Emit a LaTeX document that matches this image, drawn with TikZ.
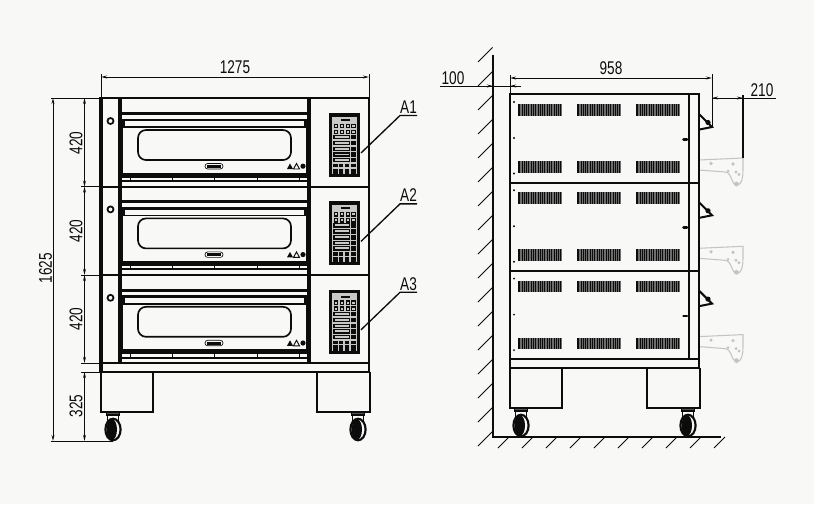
\documentclass[tikz,border=0pt]{standalone}
\usepackage{fontspec}
\setmainfont[FakeStretch=0.74]{Liberation Sans}
\usetikzlibrary{arrows.meta}
\definecolor{paper}{HTML}{F8F8F6}
\definecolor{ink}{HTML}{0C0C0C}
\definecolor{ghost}{HTML}{C4C4C1}
\tikzset{
  heavy/.style={draw=ink,line width=2.4pt},
  medium/.style={draw=ink,line width=1.5pt},
  thin line/.style={draw=ink,line width=1pt},
  dimline/.style={draw=ink,line width=.7pt,{Stealth[length=4.5pt,width=2.2pt]}-{Stealth[length=4.5pt,width=2.2pt]}},
  extline/.style={draw=ink,line width=.75pt},
  dimtext/.style={text=ink,font=\fontsize{13.8pt}{14pt}\selectfont,inner sep=0pt},
  hatch/.style={draw=ink,line width=.65pt},
  ghostline/.style={draw=ghost,line width=.8pt},
  ghostdot/.style={fill=ghost},
}
\newcommand{\caster}[1]{%
  \begin{scope}[shift={(#1,0)}]
    \fill[ink!70] (-6.5,412) rectangle (6.5,415);
    \draw[medium,line width=1.1pt] (-6.5,412) rectangle (6.5,415);
    \draw[medium,line width=1.2pt] (-5.5,415) -- (-5.5,422) (5.5,415) -- (5.5,422);
    \draw[medium,line width=1.6pt] (0,429.5) ellipse (7.6 and 10.8);
    \fill[ink] (-1.2,429.5) ellipse (5.2 and 10.4);
  \end{scope}}
\newcommand{\panel}{%
  \fill[ink] (329,15) rectangle (360,79);
  \fill[paper!80!ink] (332,18.5) rectangle (357,76);
  \fill[ink] (341,21) rectangle (350,23);
  \foreach \px in {336,342,348,353.5}{\foreach \py in {28,34}{
    \draw[thin line] (\px-1.7,\py-1.7) rectangle (\px+1.7,\py+1.7);}}
  \foreach \py in {39,45,51,56.5,62}{
    \draw[thin line] (334,\py-1.6) rectangle (349.5,\py+1.6);
    \fill[ink] (351.4,\py-2.2) rectangle (355.8,\py+2.2);}
  \fill[ink] (333,66) rectangle (356,76);
  \foreach \px in {338.5,344,350}{\draw[paper!80!ink,line width=.8pt] (\px,66) -- (\px,76);}
  \draw[paper!80!ink,line width=.8pt] (333,70) -- (356,70);
}
\newcommand{\frontbay}[1]{%
  \begin{scope}[shift={(0,#1)}]
    \draw[medium,line width=2.2pt] (120,15.5) -- (309,15.5);
    \draw[medium,line width=2.2pt] (120,22) -- (309,22);
    \draw[thin line,line width=1.2pt] (122,29) -- (307,29);
    \fill[ink] (121,23) rectangle (124.5,29);
    \fill[ink] (303.5,23) rectangle (307,29);
    \draw[thin line] (122.5,29) -- (122.5,77) (306.5,29) -- (306.5,77);
    \draw[medium,line width=1.25pt,rounded corners=6pt] (138,32) rectangle (291,62);
    \draw[thin line,rounded corners=2pt,line width=.5pt] (205,65.5) rectangle (223,71);
    \fill[ink] (207,67) rectangle (221,69.8);
    \fill[ink] (287,71) -- (290,65.5) -- (293,71) -- cycle;
    \draw[thin line,line width=.7pt] (293.5,71) -- (296.5,65.5) -- (299.5,71) -- cycle;
    \fill[ink] (303,68.2) circle (2.6);
    \fill[ink] (120,74.5) rectangle (309,79.5);
    \foreach \tx in {130,172,214,257,299}{\fill[ink] (\tx-.5,79) rectangle (\tx+.5,82);}
    \draw[thin line,line width=1.5pt] (120,83) -- (309,83);
    \draw[medium,line width=1.3pt] (110.5,23) circle (3);
    \panel
  \end{scope}}
\newcommand{\sidebay}[1]{%
  \begin{scope}[shift={(0,#1)}]
    \foreach \vx in {518,577,636}{\foreach \vy in {10,67}{
      \fill[ink] (\vx,\vy) rectangle (\vx+44,\vy+11.7);
      \foreach \n in {1,...,24}{\draw[ink!60,line width=.18pt] (\vx+\n*1.78,\vy) -- (\vx+\n*1.78,\vy+11.7);}}}
    \fill[ink] (514,8) circle (1.1);
    \fill[ink] (514,44) circle (1.1);
    \fill[ink] (514,79.5) circle (1.1);
    \draw[ink,line width=2pt,line cap=round] (683.5,45.5) -- (687,45.5);
    \draw[medium] (699.5,20.5) -- (712,33) -- (699.5,35.5);
    \fill[ink] (708,28.5) circle (2.6);
    \draw[ghostline] (699,66) -- (743,64) -- (743,76) .. controls (743,83) and (742,91) .. (737,91) .. controls (731,91) and (732,78) .. (725,78) -- (699,76);
    \fill[ghostdot] (711,69.5) circle (1.8);
    \fill[ghostdot] (733,70) circle (1.8);
    \fill[ghostdot] (728,77) circle (1.5);
    \fill[ghostdot] (736,78) circle (1.6);
    \fill[ghostdot] (739,80.5) circle (1.6);
    \fill[ghostdot] (736.5,90) circle (2.4);
  \end{scope}}
\begin{document}
\begin{tikzpicture}[x=.75pt,y=-.75pt]
\useasboundingbox (0,0) rectangle (814,504);
\fill[paper] (0,0) rectangle (814,504);

% ---------- front view ----------
\coordinate (fTL) at (101,98);
\coordinate (fTR) at (369,98);
\coordinate (f1) at (101,186.7);
\coordinate (f2) at (101,275);
\coordinate (f3) at (101,363);
\coordinate (f4) at (101,372);
\coordinate (fB) at (113,441);
\frontbay{98}
\frontbay{186.4}
\frontbay{274.8}
\draw[heavy] (101,97) -- (101,372);
\draw[heavy] (120,98) -- (120,363);
\draw[heavy] (309,98) -- (309,363);
\draw[medium,line width=1.7pt] (369,98) -- (369,372);
\draw[medium,line width=1.7pt] (101,98) -- (369,98);
\draw[medium,line width=1.7pt] (101,186.7) -- (369,186.7);
\draw[medium,line width=1.7pt] (101,275) -- (369,275);
\draw[medium,line width=1.7pt] (101,363) -- (369,363);
\draw[medium] (101,372) -- (370,372);
\draw[medium] (101,372) -- (101,412) -- (153,412) -- (153,372);
\draw[medium] (317,372) -- (317,412) -- (370,412) -- (370,372);
\caster{113}
\caster{358}

% front dimensions
\draw[extline] (fTL) -- (101,74);
\draw[extline] (fTR) -- (369,74);
\draw[dimline] (101,77) -- node[dimtext,above=2pt] (d1275) {1275} (369,77);
\draw[extline] (fTL) -- (51,98);
\draw[extline] (f1) -- (81,186.7);
\draw[extline] (f2) -- (81,275);
\draw[extline] (f3) -- (81,363);
\draw[extline] (f4) -- (81,372);
\draw[extline] (fB) -- (51,441);
\draw[dimline] (53,98) -- (53,441);
\draw[dimline] (84.5,98) -- (84.5,186.7);
\draw[dimline] (84.5,186.7) -- (84.5,275);
\draw[dimline] (84.5,275) -- (84.5,363);
\draw[dimline] (84.5,372) -- (84.5,441);
\node[dimtext,rotate=90] (d1625) at (45.5,268) {1625};
\node[dimtext,rotate=90] (d420a) at (76,143) {420};
\node[dimtext,rotate=90] (d420b) at (76,231) {420};
\node[dimtext,rotate=90] (d420c) at (76,319) {420};
\node[dimtext,rotate=90] (d325) at (76,406) {325};

% leaders
\foreach \lab/\ly in {A1/0,A2/88.4,A3/176.8}{
  \begin{scope}[shift={(0,\ly)}]
    \node[dimtext] (n\lab) at (408.5,107) {\lab};
    \coordinate (p\lab) at (361,153);
    \coordinate (q\lab) at (400,115.5);
    \coordinate (r\lab) at (417,115.5);
    \draw[medium,line width=1pt] (p\lab) -- (q\lab) -- (r\lab);
  \end{scope}}

% ---------- side view ----------
\coordinate (wallT) at (493,55);
\coordinate (wallB) at (493,437);
\coordinate (floorR) at (721,437);
\draw[medium] (wallT) -- (wallB) -- (floorR);
\foreach \hy in {0,...,16}{\draw[hatch] (478,62+\hy*24) -- (492.5,47.5+\hy*24);}
\begin{scope}
  \clip (470,50) rectangle (730,460);
  \foreach \hx in {0,...,9}{\draw[hatch] (498+\hx*24,448) -- (509+\hx*24,437);}
\end{scope}
\sidebay{94}
\sidebay{182.3}
\sidebay{270.6}
\draw[medium] (510,94) rectangle (699,359);
\draw[medium] (510,183) -- (699,183);
\draw[medium] (510,271) -- (699,271);
\draw[medium] (689,94) -- (689,359);
\draw[medium,line width=1.8pt] (699,94) -- (699,368);
\draw[medium] (510,94) -- (510,368) -- (699,368);
\draw[medium] (510,368) -- (510,408) -- (562,408) -- (562,368);
\draw[medium] (647,368) -- (647,408) -- (700,408) -- (700,368);
\begin{scope}[shift={(0,-4)}]
  \caster{521}
  \caster{688}
\end{scope}

% side dimensions
\coordinate (sTL) at (510,94);
\coordinate (sEnd) at (712,127);
\draw[extline] (sTL) -- (510,75);
\draw[extline] (sEnd) -- (712,74);
\draw[dimline] (510,78) -- node[dimtext,above=2pt] (d958) {958} (712,78);
\draw[extline] (440,86) -- (521,86);
\draw[extline,{Stealth[length=4.5pt,width=2.2pt]}-] (493,86) -- (484,86);
\draw[extline,{Stealth[length=4.5pt,width=2.2pt]}-] (510,86) -- (519,86);
\node[dimtext] (d100) at (453,78) {100};
\coordinate (sDoor) at (743,158);
\draw[extline,line width=1.2pt] (sDoor) -- (743,95);
\draw[extline] (712,98) -- (776,98);
\draw[extline,{Stealth[length=4.5pt,width=2.2pt]}-{Stealth[length=4.5pt,width=2.2pt]}] (712,98) -- (743,98);
\node[dimtext] (d210) at (762,90) {210};
\end{tikzpicture}
\end{document}
